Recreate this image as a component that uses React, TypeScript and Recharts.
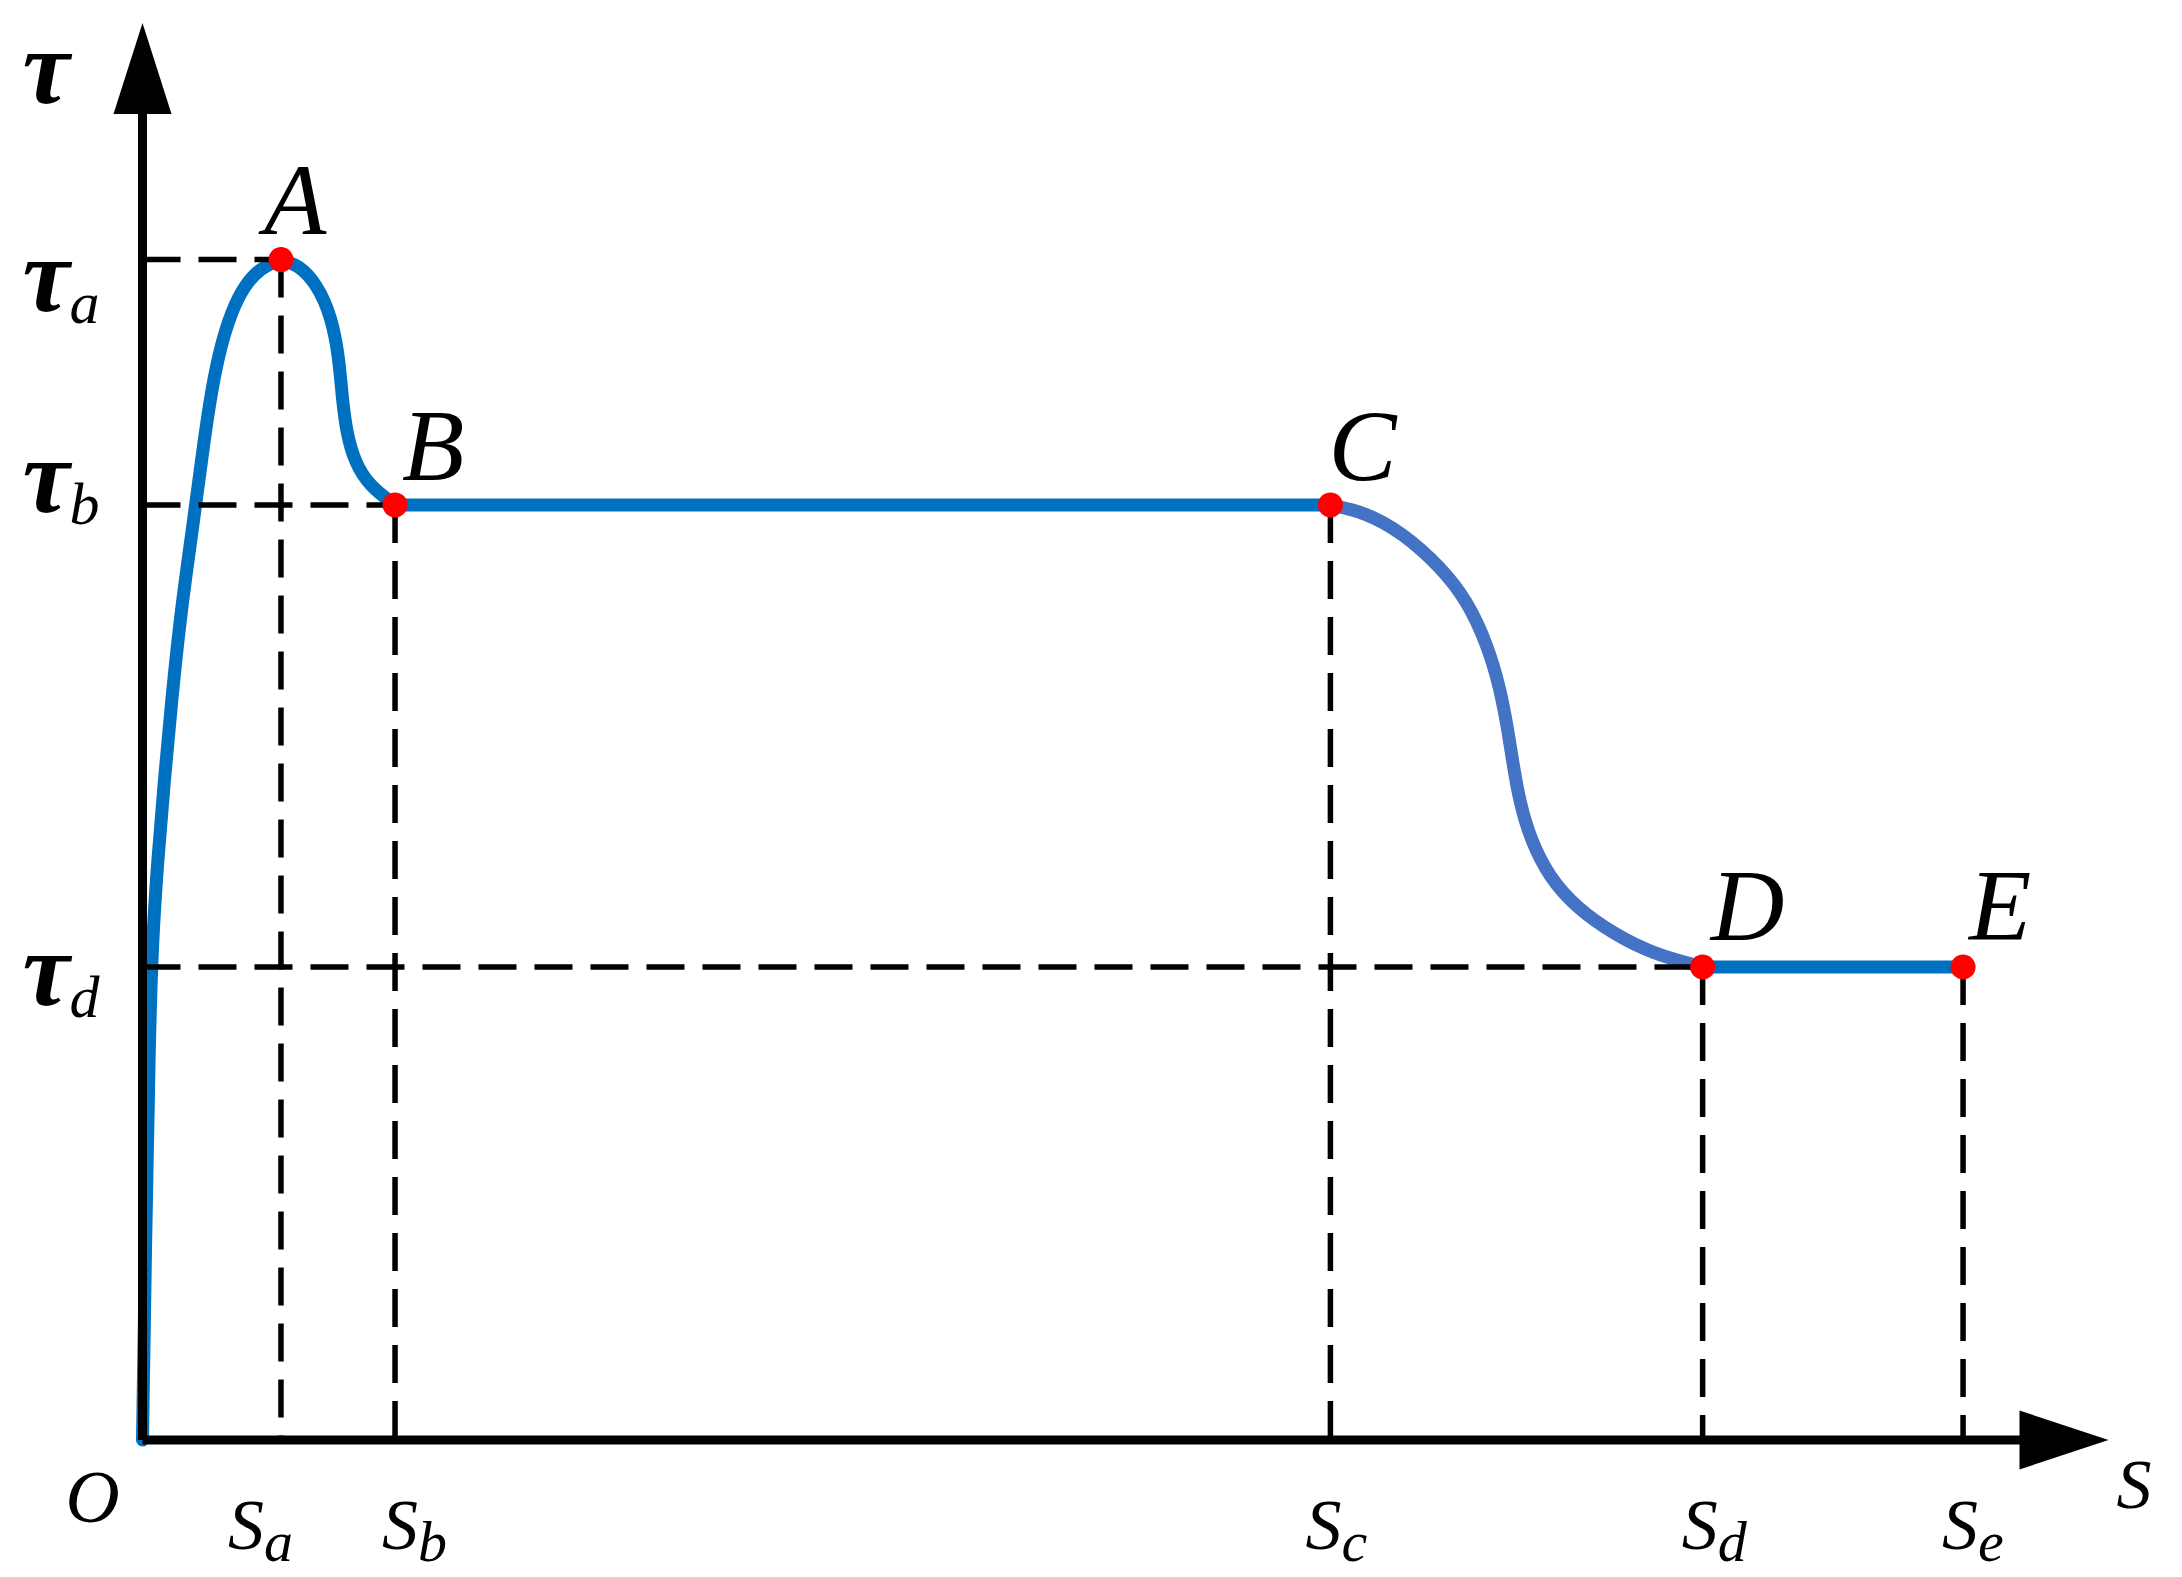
import React from 'react';
import { ComposedChart, Line, XAxis, YAxis, ReferenceLine, ReferenceDot } from 'recharts';

// ---------- data (s: slip, t: shear stress, arbitrary units 0..100) ----------
const S_SUBS = ['a', 'b', 'c', 'd', 'e'];
const S_VALUES = [7.37, 13.44, 63.22, 83.03, 96.89];
const TAU_SUBS = ['a', 'b', 'd'];
const TAU_VALUES = [88.89, 70.41, 35.62];
const POINT_NAMES = ['A', 'B', 'C', 'D', 'E'];
const POINT_TAU = [88.89, 70.41, 70.41, 35.62, 35.62];

// O -> A -> B
const SEG_PEAK: [number, number][] = [
  [0, 0], [0.17, 15.59], [0.36, 30.05], [0.52, 37.5], [0.8, 43.5], [1.15, 49.5],
  [1.55, 55.72], [2.05, 62.5], [2.7, 69.0], [3.25, 75.0], [3.7, 79.3],
  [4.2, 82.6], [4.75, 85.0], [5.4, 86.9], [6.3, 88.3],
  [7.37, 88.89], [8.3, 88.5], [9.3, 87.0], [10.05, 84.6],
  [10.45, 81.6], [10.62, 78.6], [10.85, 75.9], [11.3, 73.6], [12.1, 71.8],
  [13.44, 70.41],
];
// B -> C
const SEG_FLAT: [number, number][] = [[13.44, 70.41], [63.22, 70.41]];
// C -> D
const SEG_SOFT: [number, number][] = [
  [63.22, 70.41], [65.05, 69.88], [67.08, 68.3], [69.11, 65.7], [70.5, 63.2],
  [71.6, 59.8], [72.25, 56.6], [72.65, 53.6], [72.95, 50.8], [73.3, 48.0],
  [73.85, 45.3], [74.85, 42.4], [76.3, 40.1], [78.3, 38.1], [80.4, 36.6],
  [83.03, 35.62],
];
// D -> E
const SEG_RES: [number, number][] = [[83.03, 35.62], [96.89, 35.62]];

const toRows = (seg: [number, number][]) => seg.map(([s, t]) => ({ s, t }));

// ---------- style ----------
const W = 2182;
const H = 1577;
const X_AXIS_H = 137;
const Y_AXIS_W = 142.5;
const MARGIN = { top: 112, right: 160.5, bottom: 0, left: 0 };
const FONT = "Liberation Serif, Times New Roman, serif";
const BLUE = '#0070C0';
const BLUE2 = '#4472C4';
const RED = '#FF0000';
const DASH = '38 18';
const CURVE_W = 13;
const AXIS_W = 9;
const S_TICK_DX = [-53, -13, -25, -21, -21];
const TAU_TICK_DY = [51, 7, 38];
const POINT_LABEL_OFF: [number, number][] = [[-17, -26], [7, -25], [-2, -24], [8, -27], [6, -27]];

const renderSTick = (props: any) => {
  const { x, y, payload } = props;
  const i = S_VALUES.indexOf(payload.value);
  if (i < 0) return <g />;
  return (
    <text x={x + S_TICK_DX[i]} y={y + 109} fontFamily={FONT} fontStyle="italic" fontSize={72} fill="#000">
      <tspan>S</tspan>
      <tspan fontSize={58} dy={12}>{S_SUBS[i]}</tspan>
    </text>
  );
};

const renderTauTick = (props: any) => {
  const { x, y, payload } = props;
  const i = TAU_VALUES.indexOf(payload.value);
  if (i < 0) return <g />;
  return (
    <text x={x - 120} y={y + TAU_TICK_DY[i]} fontFamily={FONT} fill="#000">
      <tspan fontSize={106} fontStyle="italic" fontWeight="bold">τ</tspan>
      <tspan fontSize={60} fontStyle="italic" dy={12}>{TAU_SUBS[i]}</tspan>
    </text>
  );
};

export default function App() {
  const xMax = 100;
  const yMax = 100;
  return (
    <div style={{ position: 'absolute', left: 0, top: 0, width: W, height: H, background: '#fff' }}>
      <ComposedChart width={W} height={H} margin={MARGIN}>
        <XAxis
          type="number"
          dataKey="s"
          domain={[0, xMax]}
          ticks={S_VALUES}
          interval={0}
          height={X_AXIS_H}
          tickSize={0}
          tickMargin={0}
          tickLine={false}
          tick={renderSTick}
          axisLine={{ stroke: '#000', strokeWidth: AXIS_W }}
        />
        <YAxis
          type="number"
          dataKey="t"
          domain={[0, yMax]}
          ticks={TAU_VALUES}
          interval={0}
          width={Y_AXIS_W}
          tickSize={0}
          tickMargin={0}
          tickLine={false}
          tick={renderTauTick}
          axisLine={{ stroke: '#000', strokeWidth: AXIS_W }}
        />

        <Line data={toRows(SEG_PEAK)} dataKey="t" type="basis" stroke={BLUE} strokeWidth={CURVE_W}
          strokeLinecap="round" strokeLinejoin="round" dot={false} activeDot={false} isAnimationActive={false} />
        <Line data={toRows(SEG_FLAT)} dataKey="t" type="linear" stroke={BLUE} strokeWidth={CURVE_W}
          strokeLinecap="round" dot={false} activeDot={false} isAnimationActive={false} />
        <Line data={toRows(SEG_SOFT)} dataKey="t" type="basis" stroke={BLUE2} strokeWidth={CURVE_W}
          strokeLinecap="round" strokeLinejoin="round" dot={false} activeDot={false} isAnimationActive={false} />
        <Line data={toRows(SEG_RES)} dataKey="t" type="linear" stroke={BLUE} strokeWidth={CURVE_W}
          strokeLinecap="round" dot={false} activeDot={false} isAnimationActive={false} />

        {POINT_NAMES.map((name, i) => (
          <ReferenceDot
            key={'pt' + name}
            x={S_VALUES[i]}
            y={POINT_TAU[i]}
            r={12.5}
            ifOverflow="visible"
            shape={(p: any) => (
              <g>
                <circle cx={p.cx} cy={p.cy} r={12.5} fill={RED} />
                <text x={p.cx + POINT_LABEL_OFF[i][0]} y={p.cy + POINT_LABEL_OFF[i][1]}
                  fontFamily={FONT} fontStyle="italic" fontSize={102} fill="#000">{name}</text>
              </g>
            )}
          />
        ))}

        {POINT_NAMES.map((name, i) => (
          <ReferenceLine
            key={'v' + name}
            segment={[{ x: S_VALUES[i], y: POINT_TAU[i] }, { x: S_VALUES[i], y: 0 }]}
            stroke="#000"
            strokeWidth={5.5}
            strokeDasharray={DASH}
            ifOverflow="visible"
          />
        ))}
        {TAU_VALUES.map((tv, k) => {
          const i = POINT_TAU.indexOf(tv);
          return (
            <ReferenceLine
              key={'h' + k}
              segment={[{ x: 0, y: tv }, { x: S_VALUES[i], y: tv }]}
              stroke="#000"
              strokeWidth={5.5}
              strokeDasharray={DASH}
              ifOverflow="visible"
            />
          );
        })}

        {/* axis arrows and titles */}
        <ReferenceDot
          x={xMax}
          y={0}
          r={1}
          ifOverflow="visible"
          shape={(p: any) => (
            <g>
              <polygon points={`${p.cx - 2},${p.cy - 29.5} ${p.cx + 87},${p.cy} ${p.cx - 2},${p.cy + 29.5}`} fill="#000" />
              <text x={p.cx + 95} y={p.cy + 68} fontFamily={FONT} fontStyle="italic" fontSize={70} fill="#000">S</text>
            </g>
          )}
        />
        <ReferenceDot
          x={0}
          y={yMax}
          r={1}
          ifOverflow="visible"
          shape={(p: any) => (
            <g>
              <polygon points={`${p.cx - 29},${p.cy + 2} ${p.cx},${p.cy - 89} ${p.cx + 29},${p.cy + 2}`} fill="#000" />
              <text x={p.cx - 120} y={p.cy - 9} fontFamily={FONT} fontStyle="italic" fontWeight="bold" fontSize={106} fill="#000">τ</text>
            </g>
          )}
        />
        <ReferenceDot
          x={0}
          y={0}
          r={1}
          ifOverflow="visible"
          shape={(p: any) => (
            <text x={p.cx - 77} y={p.cy + 82} fontFamily={FONT} fontStyle="italic" fontSize={75} fill="#000">O</text>
          )}
        />
      </ComposedChart>
    </div>
  );
}
